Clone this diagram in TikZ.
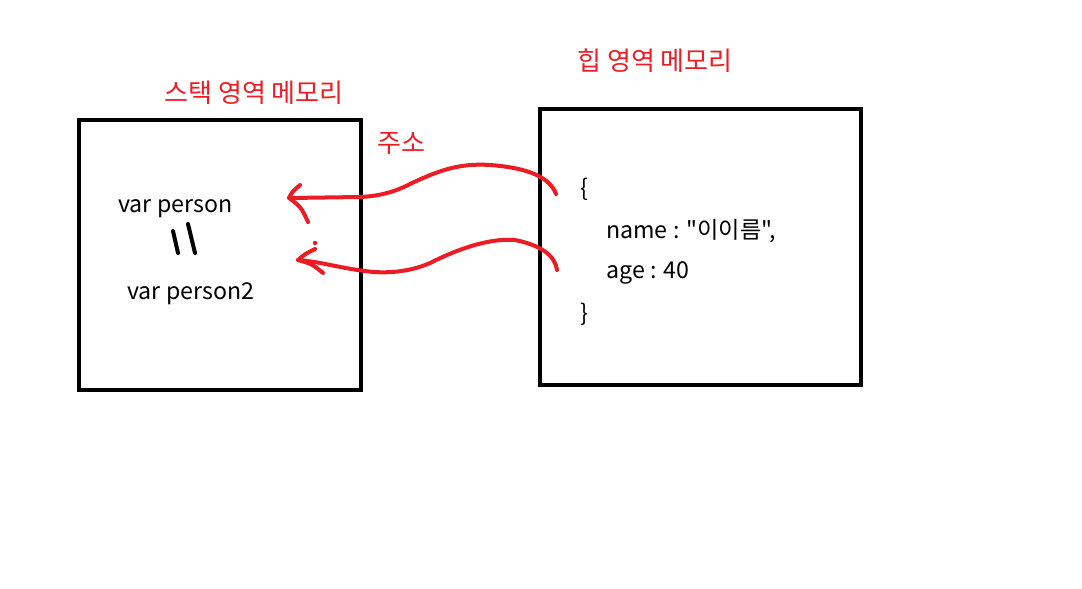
\documentclass[tikz,border=0pt]{standalone}
\usepackage{fontspec}
\setmainfont{Noto Sans CJK KR}
\newfontfamily\codefont{Noto Sans CJK KR}
\usetikzlibrary{positioning}
\definecolor{paintred}{HTML}{ED1C24}

\begin{document}
\begin{tikzpicture}[
    x=0.025cm, y=-0.025cm,
    memory/.style={rectangle, draw, line width=0.1cm},
    title/.style={text=paintred, font=\fontsize{18.5}{20}\selectfont, inner sep=0pt},
    code/.style={anchor=west, font=\codefont\fontsize{16.5}{18}\selectfont, inner sep=0pt},
    ref/.style={draw=paintred, line width=0.1cm, line cap=round, line join=round},
    equal/.style={draw, line width=0.1cm, line cap=round}
    ]

    \useasboundingbox (0,0) rectangle (1082,588);

    % Nodes
    \node[memory, minimum width=7.05cm, minimum height=6.75cm] (stack) at (220,255) {};
    \node[memory, minimum width=8.025cm, minimum height=6.9cm] (heap) at (700.5,247) {};

    \node[title] (stacktitle) at (254,93) {스택 영역 메모리};
    \node[title] (heaptitle) at (655,61) {힙 영역 메모리};
    \node[title] (addr) at (401,143) {주소};

    \node[code] (person) at (118,209) {var person};
    \node[code] (person2) at (127,294) {var person2};

    \node[code] (open) at (580,189) {\{};
    \node[code] (name) at (606,231) {name : "이이름",};
    \node[code] (age) at (606,273) {age : 40};
    \node[code] (close) at (580,314) {\}};

    \coordinate (from1) at (556,194);
    \coordinate (tip1) at (289,198);
    \coordinate (from2) at (557,270);
    \coordinate (tip2) at (298,260);

    \draw[equal] (173,231) -- (178,253);
    \draw[equal] (188,224) -- (195,253);

    \draw[ref] (from1) .. controls (550,178) and (530,168) .. (490,165)
        .. controls (460,163) and (440,170) .. (412,183)
        .. controls (395,192) and (380,196) .. (360,197) -- (tip1);
    \draw[ref] (300,185) .. controls (292,192) .. (tip1) .. controls (301,207) .. (308,222);

    \draw[ref] (from2) .. controls (555,255) and (540,245) .. (515,240)
        .. controls (490,238) and (460,248) .. (430,263)
        .. controls (410,272) and (385,274) .. (365,271)
        .. controls (340,268) and (322,262) .. (tip2);
    \draw[ref] (315,249) .. controls (305,254) .. (tip2) .. controls (312,264) .. (323,273);
    \fill[paintred] (315,243) circle (2.2);

\end{tikzpicture}
\end{document}
